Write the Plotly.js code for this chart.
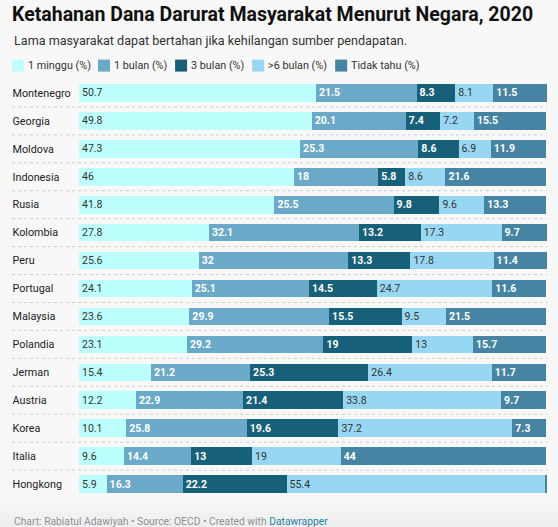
<!DOCTYPE html>
<html>
<head>
<meta charset="utf-8">
<script src="https://cdn.plot.ly/plotly-3.0.1.min.js"></script>
<style>
  html, body { margin: 0; padding: 0; }
  body { width: 558px; height: 527px; overflow: hidden;
         background: linear-gradient(to bottom, #f8f8f8 0px, #f8f8f8 495px, #eeeeee 527px); }
  #chart { width: 558px; height: 527px; }
</style>
</head>
<body>
<div id="chart"></div>
<script>
// ---- data ----
const countries = ["Montenegro","Georgia","Moldova","Indonesia","Rusia","Kolombia","Peru","Portugal","Malaysia","Polandia","Jerman","Austria","Korea","Italia","Hongkong"];
const seriesNames = ["1 minggu (%)","1 bulan (%)","3 bulan (%)",">6 bulan (%)","Tidak tahu (%)"];
const minggu1 = [50.7,49.8,47.3,46,41.8,27.8,25.6,24.1,23.6,23.1,15.4,12.2,10.1,9.6,5.9];
const bulan1  = [21.5,20.1,25.3,18,25.5,32.1,32,25.1,29.9,29.2,21.2,22.9,25.8,14.4,16.3];
const bulan3  = [8.3,7.4,8.6,5.8,9.8,13.2,13.3,14.5,15.5,19,25.3,21.4,19.6,13,22.2];
const bulan6  = [8.1,7.2,6.9,8.6,9.6,17.3,17.8,24.7,9.5,13,26.4,33.8,37.2,19,55.4];
const tidakTahu = [11.5,15.5,11.9,21.6,13.3,9.7,11.4,11.6,21.5,15.7,11.7,9.7,7.3,44,0.2];

// ---- style ----
const colors = ["#bdfffc","#6aaac8","#17607a","#98d7f2","#4585a3"];
const textColors = ["#333333","#ffffff","#ffffff","#333333","#ffffff"];
const FONT = "Roboto, 'Noto Sans', Arial, sans-serif";

const W = 558, H = 527, mL = 0, mR = 11.3, mT = 79.4, mB = 29.1;
const pw = W - mL - mR, ph = H - mT - mB;
const px = x => (x - mL) / pw;           // px -> paper x
const py = y => (H - mB - y) / ph;       // px -> paper y

const allSeries = [minggu1, bulan1, bulan3, bulan6, tidakTahu];
const traces = allSeries.map((vals, i) => ({
  type: "bar",
  orientation: "h",
  name: seriesNames[i],
  y: countries,
  x: vals,
  marker: { color: colors[i], line: { width: 0 } },
  text: vals.map(v => v >= 1 ? String(v) : ""),
  textposition: "inside",
  insidetextanchor: "start",
  constraintext: "none",
  textangle: 0,
  insidetextfont: { family: FONT, size: 10.5, color: textColors[i], weight: textColors[i] === "#ffffff" ? 700 : 400 },
  hoverinfo: "x+y+name",
  cliponaxis: false
}));

const shapes = [];
// dotted row separators
for (let i = 0; i < countries.length - 1; i++) {
  shapes.push({ type: "line", xref: "paper", yref: "y", x0: px(12), x1: px(547), y0: i + 0.5, y1: i + 0.5,
    line: { color: "#cccccc", width: 1, dash: "dot" } });
}
// legend
const legX = [11.7, 97.9, 175, 252, 335];
const annotations = [];
seriesNames.forEach((n, i) => {
  shapes.push({ type: "rect", xref: "paper", yref: "paper", x0: px(legX[i]), x1: px(legX[i] + 12), y0: py(72), y1: py(60),
    fillcolor: colors[i], line: { width: 0 } });
  annotations.push({ xref: "paper", yref: "paper", x: px(legX[i] + 14), y: py(66), xanchor: "left", yanchor: "middle",
    text: n, showarrow: false, font: { family: FONT, size: 10.8, color: "#333333" } });
});
// subtitle
annotations.push({ xref: "paper", yref: "paper", x: px(12), y: py(41), xanchor: "left", yanchor: "middle",
  text: "Lama masyarakat dapat bertahan jika kehilangan sumber pendapatan.", showarrow: false,
  font: { family: FONT, size: 12.6, color: "#333333" } });
// footer
annotations.push({ xref: "paper", yref: "paper", x: px(12), y: py(513), xanchor: "left", yanchor: "top",
  text: "Chart: Rabiatul Adawiyah • Source: OECD • Created with <span style='color:#1d81a2'>Datawrapper</span>", showarrow: false,
  font: { family: FONT, size: 10.3, color: "#909090" } });

const layout = {
  width: W, height: H,
  margin: { l: mL, r: mR, t: mT, b: mB, pad: 0 },
  paper_bgcolor: "rgba(0,0,0,0)",
  plot_bgcolor: "rgba(0,0,0,0)",
  barmode: "stack",
  bargap: 0.37,
  showlegend: false,
  title: { text: "Ketahanan Dana Darurat Masyarakat Menurut Negara, 2020", xref: "container", yref: "container",
    x: 12 / W, xanchor: "left", y: 1 - 14 / H, yanchor: "middle",
    font: { family: FONT, size: 19.5, color: "#111111", weight: 700 } },
  xaxis: { domain: [px(79), 1], range: [0, 100.12], visible: false, fixedrange: true },
  yaxis: { type: "category", range: [14.5, -0.5], anchor: "free", position: px(8.5), side: "left",
    ticklabelposition: "inside", ticks: "", showgrid: false, zeroline: false, showline: false,
    tickfont: { family: FONT, size: 10.8, color: "#222222" }, fixedrange: true },
  shapes: shapes,
  annotations: annotations,
  font: { family: FONT }
};

Plotly.newPlot("chart", traces, layout, { displayModeBar: false, staticPlot: false });
</script>
</body>
</html>
